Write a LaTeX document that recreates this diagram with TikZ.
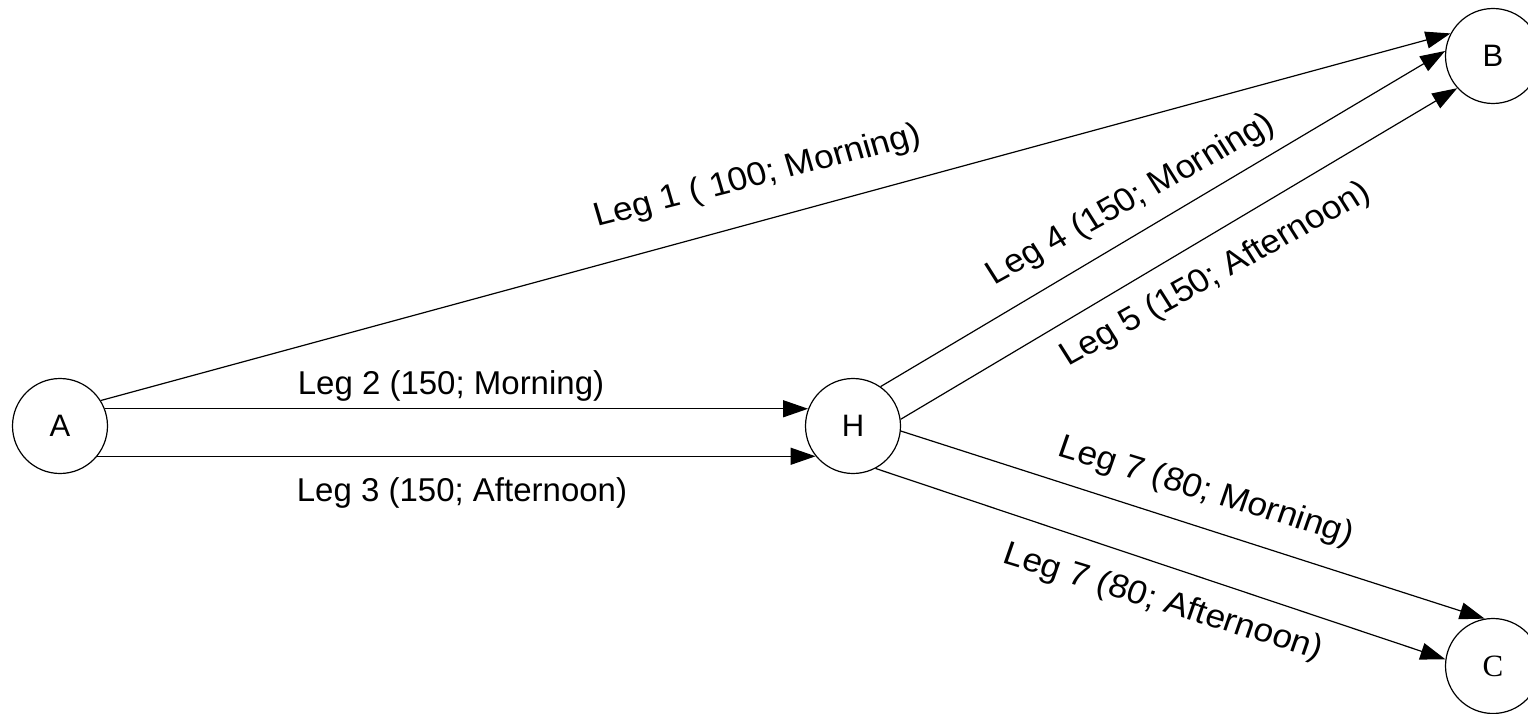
\documentclass[tikz,border=0pt]{standalone}
\usepackage{fontspec}
\setmainfont{Liberation Sans}
\newfontfamily\serifletter{Liberation Serif}
\usetikzlibrary{arrows.meta}
\begin{document}
\begin{tikzpicture}[x=1pt,y=-1pt,
  stop/.style={circle, draw, line width=1.2pt, minimum size=95pt, inner sep=0pt,
               font=\fontsize{31}{31}\selectfont},
  leg/.style={line width=1.2pt, -{Triangle[length=25pt,width=17pt]}},
  lbl/.style={inner sep=0pt, font=\fontsize{33}{33}\selectfont},
  slbl/.style={inner sep=0pt, font=\fontsize{33}{33}\selectfont, xscale=1.07}]
\useasboundingbox (0,0) rectangle (1528,714);

% stations
\node[stop] (A) at (60,426) {A};
\node[stop] (H) at (853,426) {H};
\node[stop] (B) at (1493,56) {B};
\node[stop] (C) at (1493,666) {\serifletter C};

% legs
\draw[leg] (A.32) -- (B.152);
\draw[leg] (A.21) -- (H.159);
\draw[leg] (A.-39) -- (H.-141);
\draw[leg] (H.55) -- (B.174);
\draw[leg] (H.8) -- (B.222);
\draw[leg] (H.-6) -- (C.100);
\draw[leg] (H.-62) -- (C.172);

% leg labels
\node[slbl, rotate=15.3] (l1) at (758,177) {Leg 1 ( 100; Morning)};
\node[lbl] (l2) at (451,386) {Leg 2 (150; Morning)};
\node[lbl] (l3) at (462,493) {Leg 3 (150; Afternoon)};
\node[slbl, rotate=30.6] (l4) at (1131,200) {Leg 4 (150; Morning)};
\node[slbl, rotate=30.6] (l5) at (1216,275) {Leg 5 (150; Afternoon)};
\node[slbl, rotate=-18] (l7m) at (1206,492) {Leg 7 (80; Morning)};
\node[slbl, rotate=-18] (l7a) at (1163,603) {Leg 7 (80; Afternoon)};
\end{tikzpicture}
\end{document}
